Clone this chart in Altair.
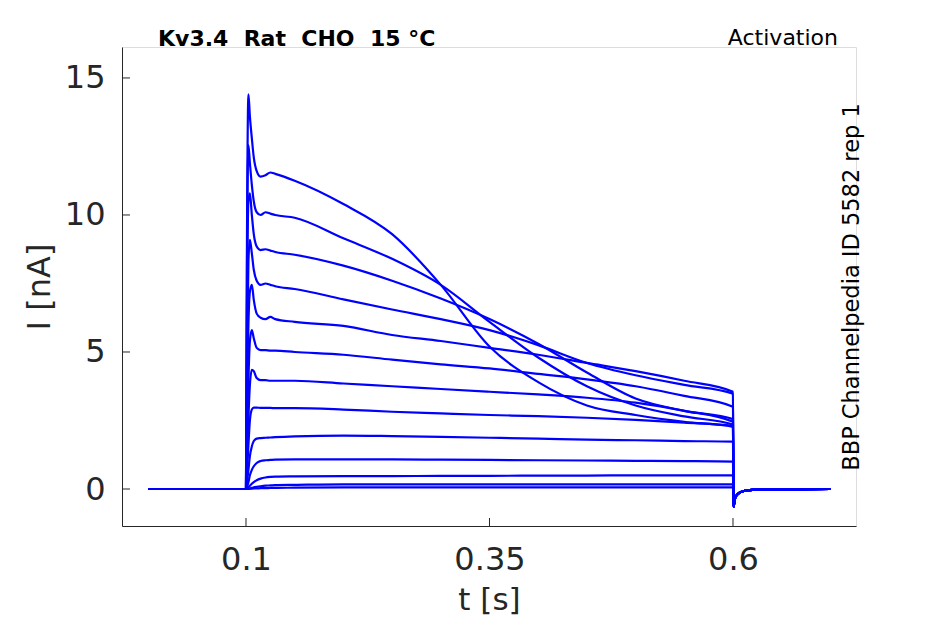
import altair as alt
import pandas as pd

# ---- data ----
PRE_T = [0.0, 0.0999]
PRE_I = [0.0, 0.0]

STEP_T = [0.1, 0.101, 0.1025, 0.104, 0.106, 0.108, 0.111, 0.115, 0.12, 0.125, 0.13,
          0.15, 0.2, 0.25, 0.3, 0.35, 0.4, 0.45, 0.5, 0.55, 0.6]

TRACES = {
    "s01": [0, 9.0, 14.4, 13.6, 12.8, 12.1, 11.6, 11.4, 11.45, 11.55, 11.5, 11.25, 10.4, 9.3, 7.45, 5.2, 3.9, 3.05, 2.7, 2.45, 2.27],
    "s02": [0, 8.0, 12.55, 11.9, 11.1, 10.5, 10.1, 10.0, 10.1, 10.05, 10.0, 9.9, 9.15, 8.4, 7.45, 6.1, 4.8, 3.75, 3.05, 2.65, 2.35],
    "s03": [0, 6.5, 10.5, 10.79, 10.0, 9.3, 8.85, 8.72, 8.75, 8.7, 8.65, 8.55, 8.15, 7.6, 6.95, 6.2, 5.3, 4.25, 3.3, 2.85, 2.55],
    "s04": [0, 4.5, 8.3, 9.09, 8.6, 8.0, 7.6, 7.45, 7.5, 7.45, 7.4, 7.3, 6.92, 6.55, 6.2, 5.8, 5.25, 4.6, 4.15, 3.8, 3.48],
    "s05": [0, 3.0, 6.0, 7.2, 7.45, 6.9, 6.4, 6.25, 6.2, 6.28, 6.2, 6.1, 5.95, 5.62, 5.4, 5.15, 4.9, 4.6, 4.3, 3.95, 3.55],
    "s06": [0, 1.8, 4.0, 5.4, 5.8, 5.5, 5.15, 5.07, 5.07, 5.05, 5.05, 5.0, 4.9, 4.72, 4.55, 4.4, 4.2, 4.0, 3.75, 3.4, 3.0],
    "s07": [0, 1.0, 2.6, 3.8, 4.35, 4.3, 4.05, 3.97, 3.97, 3.95, 3.95, 3.95, 3.85, 3.75, 3.65, 3.55, 3.45, 3.33, 3.15, 2.85, 2.45],
    "s08": [0, 0.6, 1.6, 2.5, 2.9, 2.97, 2.97, 2.96, 2.96, 2.96, 2.95, 2.95, 2.9, 2.82, 2.76, 2.7, 2.66, 2.6, 2.52, 2.42, 2.3],
    "s09": [0, 0.25, 0.7, 1.2, 1.55, 1.75, 1.84, 1.86, 1.87, 1.88, 1.89, 1.92, 1.95, 1.93, 1.9, 1.87, 1.84, 1.8, 1.78, 1.75, 1.73],
    "s10": [0, 0.08, 0.25, 0.5, 0.7, 0.83, 0.95, 1.02, 1.05, 1.06, 1.07, 1.08, 1.08, 1.08, 1.07, 1.06, 1.05, 1.04, 1.03, 1.02, 1.0],
    "s11": [0, 0.02, 0.06, 0.12, 0.19, 0.25, 0.32, 0.38, 0.42, 0.44, 0.45, 0.46, 0.47, 0.47, 0.48, 0.48, 0.49, 0.49, 0.5, 0.5, 0.5],
    "s12": [0, 0.0, 0.01, 0.02, 0.04, 0.06, 0.08, 0.1, 0.12, 0.13, 0.14, 0.15, 0.17, 0.17, 0.17, 0.17, 0.17, 0.17, 0.17, 0.17, 0.17],
    "s13": [0, 0, 0, 0.01, 0.01, 0.02, 0.02, 0.03, 0.03, 0.04, 0.04, 0.05, 0.06, 0.06, 0.06, 0.06, 0.06, 0.06, 0.06, 0.06, 0.06],
}

TAIL_T = [0.6005, 0.602, 0.605, 0.61, 0.62, 0.65, 0.7]
TAIL_I = [-0.65, -0.35, -0.18, -0.08, -0.03, -0.01, 0.0]

X_TICKS = [0.1, 0.35, 0.6]
Y_TICKS = [0, 5, 10, 15]

TITLE = "Kv3.4 \u00a0Rat \u00a0CHO \u00a015 °C"
RIGHT_TOP = "Activation"
SIDE = "BBP Channelpedia ID 5582 rep 1"

# ---- build table ----
rows = []
for name, vals in TRACES.items():
    ts = PRE_T + STEP_T + TAIL_T
    vs = PRE_I + vals + TAIL_I
    for t, v in zip(ts, vs):
        rows.append({"trace": name, "t": t, "I": v})
df = pd.DataFrame(rows)

W, H = 734, 479
FONT = "DejaVu Sans"
AX = "#262626"

xscale = alt.Scale(domain=[-0.0273, 0.7263], nice=False, zero=False)
yscale = alt.Scale(domain=[-1.35, 16.13], nice=False, zero=False)

lines = alt.Chart(df).mark_line(color="#0000FF", strokeWidth=2.2, clip=True,
                                interpolate="monotone").encode(
    x=alt.X("t:Q", scale=xscale,
            axis=alt.Axis(values=X_TICKS, format="~g", title="t [s]", grid=False,
                          tickSize=0, labelPadding=33, labelBaseline="middle",
                          labelFontSize=32, labelFont=FONT, labelColor=AX,
                          titleFontSize=31, titleFont=FONT, titleColor=AX,
                          titleFontWeight="normal", titleY=74, titleBaseline="middle",
                          domainColor=AX, domainWidth=1)),
    y=alt.Y("I:Q", scale=yscale,
            axis=alt.Axis(values=Y_TICKS, title="I [nA]", grid=False,
                          tickSize=0, labelPadding=17,
                          labelFontSize=32, labelFont=FONT, labelColor=AX,
                          titleFontSize=32, titleFont=FONT, titleColor=AX,
                          titleFontWeight="normal", titleX=-83, titleY=H / 2,
                          titleBaseline="middle", titleAlign="center", titleAngle=270,
                          domainColor=AX, domainWidth=1)),
    detail="trace:N",
)

xt = alt.Chart(pd.DataFrame({"t": X_TICKS})).mark_rule(color=AX, strokeWidth=1).encode(
    x=alt.X("t:Q", scale=xscale), y=alt.value(H), y2=alt.value(H - 8))
yt = alt.Chart(pd.DataFrame({"I": Y_TICKS})).mark_rule(color=AX, strokeWidth=1).encode(
    y=alt.Y("I:Q", scale=yscale), x=alt.value(0), x2=alt.value(8))

title_txt = alt.Chart(pd.DataFrame({"s": [TITLE]})).mark_text(
    font=FONT, fontSize=22, fontWeight="bold", color="black", align="left", baseline="middle"
).encode(text="s:N", x=alt.value(36), y=alt.value(-8))

act_txt = alt.Chart(pd.DataFrame({"s": [RIGHT_TOP]})).mark_text(
    font=FONT, fontSize=22, color="black", align="right", baseline="middle"
).encode(text="s:N", x=alt.value(716), y=alt.value(-9))

side_txt = alt.Chart(pd.DataFrame({"s": [SIDE]})).mark_text(
    font=FONT, fontSize=22.5, color="black", align="center", baseline="middle", angle=270
).encode(text="s:N", x=alt.value(730), y=alt.value(240))

chart = alt.layer(lines, xt, yt, title_txt, act_txt, side_txt).properties(
    width=W, height=H,
    autosize=alt.AutoSizeParams(type="none"),
    padding={"left": 114, "top": 39, "right": 80, "bottom": 89},
).configure_view(stroke=None).configure(background="white")

chart.save("out.html", embed_options={"renderer": "svg", "actions": False})
